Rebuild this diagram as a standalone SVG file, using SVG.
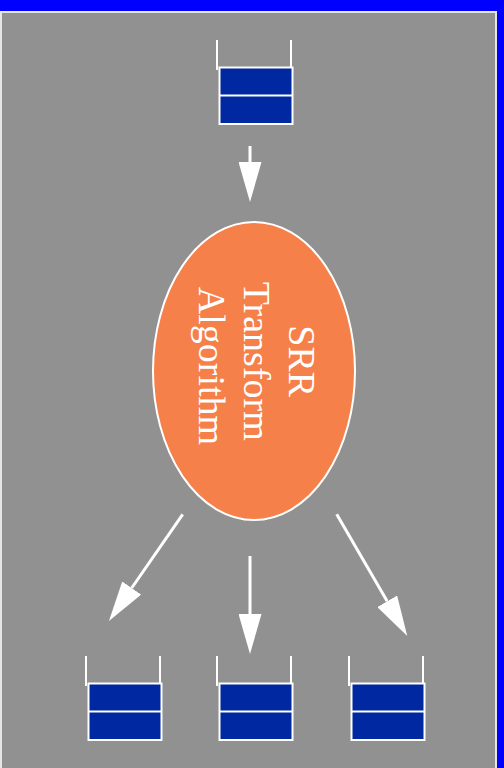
<svg xmlns="http://www.w3.org/2000/svg" width="504" height="768" viewBox="0 0 504 768">
<defs>
<style>
.q rect{fill:#0028a0;stroke:#fff;stroke-width:2}
.q line{stroke:#fff;stroke-width:2}
.e{stroke:#fff;stroke-width:3;fill:none}
.lbl{font-family:"Liberation Serif","Times New Roman",serif;font-size:38px;fill:#fff;text-anchor:middle}
</style>
<marker id="ah" viewBox="0 0 40 23" refX="0" refY="11.5" markerWidth="40" markerHeight="23" markerUnits="userSpaceOnUse" orient="auto">
<path d="M0,0 L40,11.5 L0,23 Z" fill="#fff"/>
</marker>
<g id="queue-shape" class="q">
<line x1="0" y1="0" x2="0" y2="30"/>
<line x1="74" y1="0" x2="74" y2="30"/>
<rect x="2.5" y="27.5" width="73" height="56.5"/>
<line x1="2.5" y1="55.5" x2="75.5" y2="55.5"/>
</g>
</defs>
<rect x="0" y="0" width="504" height="768" fill="#0000ff"/>
<rect x="1" y="12" width="495" height="770" fill="#919191" stroke="#e6e6e6" stroke-width="2"/>
<g id="connectors">
<line class="e" x1="250" y1="146" x2="250" y2="162" marker-end="url(#ah)"/>
<line class="e" x1="182.7" y1="514.3" x2="131.7" y2="588" marker-end="url(#ah)"/>
<line class="e" x1="250" y1="556" x2="250" y2="614" marker-end="url(#ah)"/>
<line class="e" x1="336.7" y1="514.3" x2="387.2" y2="601.3" marker-end="url(#ah)"/>
</g>
<g id="input-queue"><use href="#queue-shape" x="217" y="40"/></g>
<g id="srr">
<ellipse cx="254" cy="371" rx="101" ry="149" fill="#f5804a" stroke="#fff" stroke-width="2"/>
<text class="lbl" transform="translate(254,366) rotate(90)">
<tspan x="0" y="-35">SRR</tspan>
<tspan x="0" y="10">Transform</tspan>
<tspan x="0" y="55">Algorithm</tspan>
</text>
</g>
<g id="output-queue-1"><use href="#queue-shape" x="86" y="656"/></g>
<g id="output-queue-2"><use href="#queue-shape" x="217" y="656"/></g>
<g id="output-queue-3"><use href="#queue-shape" x="349" y="656"/></g>
</svg>
